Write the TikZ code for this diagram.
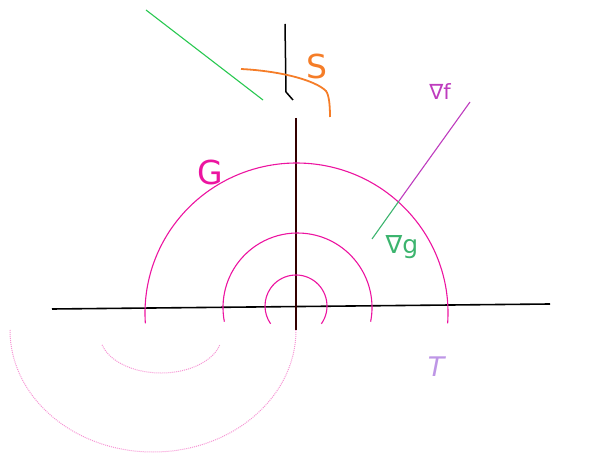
\documentclass[tikz,border=0pt]{standalone}
\usepackage{fontspec}
\setmainfont{DejaVu Sans}
\definecolor{gmag}{RGB}{236,20,160}
\definecolor{sorange}{RGB}{245,125,40}
\definecolor{ggreen}{RGB}{40,200,80}
\definecolor{fmag}{RGB}{190,60,190}
\definecolor{glab}{RGB}{60,180,110}
\definecolor{tlab}{RGB}{190,150,230}
\tikzset{
  axis/.style={black, line width=1.6pt},
  level/.style={gmag, line width=1.1pt},
  faint/.style={gmag!45, line width=1pt, densely dotted},
  lbl/.style={inner sep=0pt}
}
\begin{document}
\begin{tikzpicture}[x=1pt,y=-1pt]
\useasboundingbox (0,0) rectangle (592,454);
% axes
\coordinate (xl) at (52,309);
\coordinate (xr) at (550,304);
\draw[axis] (xl) -- (xr);
\coordinate (vt) at (285,24);
\coordinate (vk) at (286,92);
\coordinate (vk2) at (293,100);
\draw[black, line width=1.5pt] (vt) -- (vk) -- (vk2);
\coordinate (vb1) at (296,118);
\coordinate (vb2) at (296,330);
\draw[black!80!red, line width=1.6pt] (vb1) -- (vb2);
% level curves
\draw[level] (296,306) ++(35:31) arc[start angle=35, end angle=-215, radius=31];
\draw[level] (297.5,307.5) ++(11:74.5) arc[start angle=11, end angle=-191, radius=74.5];
\draw[level] (296.5,313) ++(4:151.5 and 150) arc[start angle=4, end angle=-184, x radius=151.5, y radius=150];
% faint lower arcs
\draw[faint] (153,330) ++(180:143 and 122) arc[start angle=180, end angle=0, x radius=143, y radius=122];
\draw[faint] (161,335) ++(165:61 and 38) arc[start angle=165, end angle=15, x radius=61, y radius=38];
% green line
\coordinate (ga) at (146,10);
\coordinate (gb) at (263,100);
\draw[ggreen, line width=1.1pt] (ga) -- (gb);
% orange curve S
\coordinate (sa) at (241,69);
\coordinate (sb) at (326,91);
\coordinate (sc) at (330,117);
\draw[sorange, line width=1.8pt] (sa) .. controls (280,71) and (315,80) .. (sb) .. controls (329,95) and (330,105) .. (sc);
% gradients
\coordinate (gl) at (372,239);
\coordinate (gx) at (399,201);
\coordinate (ft) at (470,102);
\draw[glab, line width=1.1pt] (gl) -- (gx);
\draw[fmag, line width=1.1pt] (gx) -- (ft);
% labels
\node[lbl, text=sorange, font=\fontsize{33}{33}\selectfont] (S) at (317,66) {S};
\node[lbl, text=gmag, font=\fontsize{33}{33}\selectfont] (G) at (210,172) {G};
\node[lbl, text=fmag, font=\fontsize{21}{21}\selectfont] (nf) at (440,92) {∇f};
\node[lbl, text=glab, font=\fontsize{25}{25}\selectfont] (ng) at (402,247) {∇g};
\node[lbl, text=tlab, font=\fontsize{27}{27}\selectfont\itshape] (T) at (436,367) {T};
\end{tikzpicture}
\end{document}
